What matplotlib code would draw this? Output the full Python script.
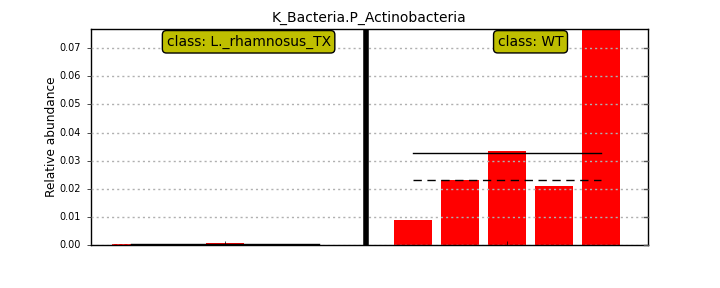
import numpy as np
import matplotlib
matplotlib.use('Agg')
import matplotlib.pyplot as plt

# data
title = 'K_Bacteria.P_Actinobacteria'
classes = ['L._rhamnosus_TX', 'WT']
vals_tx = [0.0004, 0.00006, 0.0006, 0.00003, 0.00002]
vals_wt = [0.0089, 0.0231, 0.0334, 0.0210, 0.0769]

plt.style.use('classic')
fig = plt.figure(figsize=(7.2, 2.88), dpi=100, facecolor='white')
ax = fig.add_axes([0.126, 0.149, 0.774, 0.751])

groups = [vals_tx, vals_wt]
pos = 0
mids = []
for gi, vals in enumerate(groups):
    xs = np.arange(pos, pos + len(vals))
    ax.bar(xs, vals, width=0.8, color='r', edgecolor='none', align='center', zorder=1)
    # mean and median lines
    ax.plot([xs[0], xs[-1]], [np.mean(vals)] * 2, color='k', lw=1, zorder=3)
    ax.plot([xs[0], xs[-1]], [np.median(vals)] * 2, color='k', lw=1, ls='--',
            dashes=(6, 4), zorder=3)
    mids.append(xs.mean())
    pos += len(vals)
    if gi < len(groups) - 1:
        ax.axvline(pos, color='k', lw=4, zorder=4)
        pos += 1

ymax = max(max(g) for g in groups)
ax.set_xlim(-0.86, pos)
ax.set_ylim(0, ymax)

for m, c in zip(mids, classes):
    ax.text(m + 0.5, ymax * 0.94, 'class: ' + c, ha='center', va='center', fontsize=10,
            zorder=5,
            bbox=dict(boxstyle='round,pad=0.3', facecolor=(0.75, 0.75, 0.0), edgecolor='k'))

ax.set_xticks(mids)
ax.set_xticklabels([])
ax.set_yticks(np.arange(0, 0.0701, 0.01))
ax.set_yticklabels(['%.2f' % t for t in np.arange(0, 0.0701, 0.01)], fontsize=7)
ax.tick_params(axis='x', length=3, direction='in', top=False)
ax.tick_params(axis='y', which='major', left=True, right=False, direction='out', length=3)
ax.yaxis.grid(True, color='#b0b0b0', ls=(0, (1.5, 2.2)), lw=1)
ax.set_axisbelow(False)
# short inward ticks on the right side
for t in np.arange(0, 0.0701, 0.01):
    ax.plot([1.0, 0.993], [t, t], transform=ax.get_yaxis_transform(), color='#555555',
            lw=1, clip_on=False, zorder=4)
ax.set_ylabel('Relative abundance', fontsize=8.7, labelpad=1)
ax.set_title(title, fontsize=10)

fig.savefig('out.png', dpi=100, facecolor='white')
